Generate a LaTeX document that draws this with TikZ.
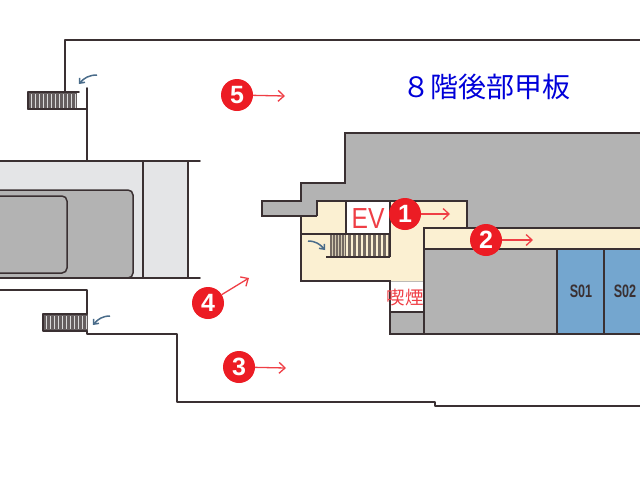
\documentclass[tikz,border=0pt]{standalone}
\usepackage{fontspec}
\setmainfont{Liberation Sans}
\newfontfamily\cjk{Noto Sans CJK JP}
\definecolor{wallc}{HTML}{3A3032}
\definecolor{grayf}{HTML}{B3B3B3}
\definecolor{lightf}{HTML}{E4E5E7}
\definecolor{creamf}{HTML}{FBF0D2}
\definecolor{bluef}{HTML}{74A6CF}
\definecolor{redc}{HTML}{EC1C24}
\definecolor{arrowb}{HTML}{4A6C8A}
\usetikzlibrary{arrows.meta}
\tikzset{
  wall/.style={draw=wallc,line width=1.6pt,line cap=round,line join=round},
  heavy/.style={draw=wallc,line width=2.4pt,line join=miter},
  thin wall/.style={draw=wallc,line width=1.3pt},
  badge/.style={circle,fill=redc,draw=none,minimum size=32pt,inner sep=0pt,text=white,font=\bfseries\fontsize{25}{25}\selectfont},
  redarrow/.style={draw=redc!85,line width=1.3pt,-{Straight Barb[length=6pt,width=11pt,line width=1.3pt]}},
  bluearrow/.style={draw=arrowb,line width=1.5pt,-{Straight Barb[length=4pt,width=7pt,line width=1.5pt]}}
}
\begin{document}
\begin{tikzpicture}[x=1pt,y=-1pt]
\useasboundingbox (0,0) rectangle (640,480);
% left structure
\fill[lightf] (0,161) rectangle (188,278);
\filldraw[fill=grayf,draw=wallc,line width=1.5pt] (-5,190) -- (126,190) [rounded corners=5pt] -- (133,190) -- (133,278) [sharp corners] -- (-5,278) -- cycle;
\filldraw[fill=grayf,draw=wallc,line width=1.5pt,rounded corners=5pt] (-5,196) -- (67,196) -- (67,273) -- (-5,273);
\draw[wall] (0,161) -- (200,161);
\draw[wall] (0,278) -- (200,278);
\draw[wall] (143,161) -- (143,278);
\draw[wall] (188,161) -- (188,278);
% outer walls
\draw[wall] (640,40) -- (65,40) -- (65,92);
\draw[wall] (87,88) -- (87,161);
\draw[wall] (0,290) -- (87,290) -- (87,334) -- (177,334) -- (177,402) -- (435,402) -- (435,406) -- (640,406);
% upper stairs
\fill[wallc!78] (28,92) rectangle (77,109);
\foreach \x in {31,35,...,75} \draw[white!85!black,line width=1pt] (\x,94) -- (\x,108);
\draw[wall] (28,92) -- (79,92);
\draw[wall] (28,109) -- (87,109);
\draw[wall] (28,92) -- (28,109);
% lower stairs
\fill[wallc!78] (43,314) rectangle (88,331);
\foreach \x in {46,50,...,86} \draw[white!85!black,line width=1pt] (\x,316) -- (\x,329);
\draw[wall] (43,314) -- (43,331) -- (87,331);
\draw[wall] (43,314) -- (87,314);
% building
\fill[grayf] (345,133) -- (640,133) -- (640,334) -- (390,334) -- (390,281) -- (301,281) -- (301,216) -- (262,216) -- (262,201) -- (301,201) -- (301,183) -- (345,183) -- cycle;
\fill[creamf] (317,201) -- (467,201) -- (467,228) -- (640,228) -- (640,249) -- (424,249) -- (424,281) -- (301,281) -- (301,216) -- (317,216) -- cycle;
\fill[white] (390,282) rectangle (424,312);
\fill[bluef] (557,249) rectangle (640,334);
\draw[heavy] (640,133) -- (345,133) -- (345,183) -- (301,183) -- (301,201) -- (262,201) -- (262,216) -- (301,216) -- (301,281) -- (390,281) -- (390,334) -- (640,334);
\draw[heavy,line width=1.8pt] (317,216) -- (317,201) -- (467,201) -- (467,228);
\draw[heavy,line width=1.8pt] (317,216) -- (301,216);
\draw[heavy,line width=1.8pt] (640,228) -- (424,228) -- (424,334);
\draw[thin wall] (424,249) -- (640,249);
\draw[heavy,line width=1.8pt] (581,249) -- (625,249);
\draw[thin wall] (557,249) -- (557,334);
\draw[heavy,line width=1.8pt] (604,249) -- (604,334);
\draw[heavy,line width=1.8pt] (390,312) -- (424,312);
% EV and stairs
\fill[white] (346,202) rectangle (389,233);
\fill[wallc!70!creamf] (330,235) rectangle (389,256);
\foreach \x in {332,335,...,344} \draw[creamf!80!wallc,line width=1pt] (\x,235) -- (\x,256);
\foreach \x in {347,352,...,387} \draw[creamf,line width=1.3pt] (\x,235) -- (\x,256);
\draw[thin wall] (301,234) -- (390,234);
\draw[thin wall] (326,257) -- (390,257);
\draw[thin wall] (346,201) -- (346,234);
\draw[thin wall] (390,201) -- (390,257);
% texts
\node[text=redc!85,font=\fontsize{29}{29}\selectfont,xscale=.85] (ev) at (368,219) {EV};
\node[text=wallc,font=\bfseries\fontsize{18}{18}\selectfont,xscale=.7] (s01) at (581,291) {S01};
\node[text=wallc,font=\bfseries\fontsize{18}{18}\selectfont,xscale=.7] (s02) at (625,291) {S02};
\node[text=redc!85,font=\cjk\fontsize{18.5}{18.5}\selectfont,inner sep=0pt] (smoke) at (405,298) {喫煙};
\node[text=blue!85!black,font=\cjk\fontsize{28}{28}\selectfont,inner sep=0pt] (title) at (486,87) {８階後部甲板};
% small direction arrows
\coordinate (ua) at (97,75); \coordinate (ub) at (79,84);
\draw[bluearrow] (ua) to[out=180,in=50] (ub);
\coordinate (la) at (110,316); \coordinate (lb) at (93,325);
\draw[bluearrow] (la) to[out=180,in=50] (lb);
\coordinate (ma) at (308,241); \coordinate (mb) at (325,250);
\draw[bluearrow] (ma) to[out=0,in=130] (mb);
% badges
\node[badge] (b1) at (405,214) {1};
\node[badge] (b2) at (486,240) {2};
\node[badge] (b3) at (239,367) {3};
\node[badge] (b4) at (208,303) {4};
\node[badge] (b5) at (237,95) {5};
\coordinate (e1) at (450,214);
\coordinate (e2) at (533,240);
\coordinate (e3) at (286,368);
\coordinate (e4) at (249,278);
\coordinate (e5) at (285,96);
\draw[redarrow] (b1) -- (e1);
\draw[redarrow] (b2) -- (e2);
\draw[redarrow] (b3) -- (e3);
\draw[redarrow] (b4) -- (e4);
\draw[redarrow] (b5) -- (e5);
\end{tikzpicture}
\end{document}
